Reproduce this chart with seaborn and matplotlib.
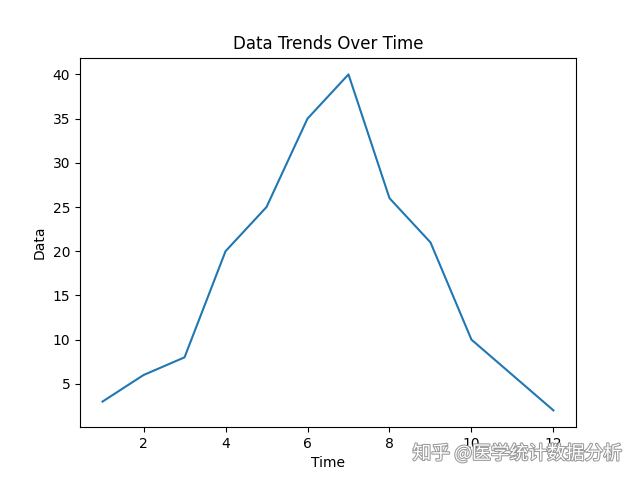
import matplotlib
matplotlib.use("Agg")
import matplotlib.pyplot as plt
import matplotlib.patheffects as pe
import pandas as pd
import seaborn as sns

time = list(range(1, 13))
data = [3, 6, 8, 20, 25, 35, 40, 26, 21, 10, 6, 2]

df = pd.DataFrame({"Time": time, "Data": data})

fig, ax = plt.subplots(figsize=(6.4, 4.8), dpi=100)
sns.lineplot(data=df, x="Time", y="Data", ax=ax)
ax.set_title("Data Trends Over Time")

# watermark, overlaps the tick labels as in the source image
fig.text(0.972, 0.055, "知乎 @医学统计数据分析", ha="right", va="center",
         fontsize=13.5, color="white", family=["Noto Sans CJK SC", "DejaVu Sans"],
         path_effects=[pe.withStroke(linewidth=1.5, foreground="#999999")])

fig.savefig("out.png")
